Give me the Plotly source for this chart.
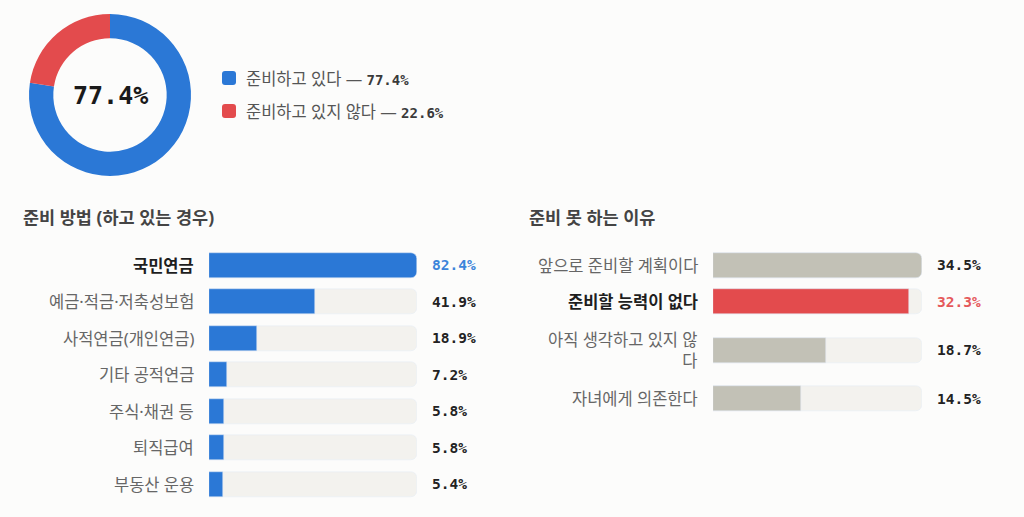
import plotly.graph_objects as go

# data
status_labels = ["준비하고 있다", "준비하고 있지 않다"]
status_values = [77.4, 22.6]

method_title = "준비 방법 (하고 있는 경우)"
method_labels = ["국민연금", "예금·적금·저축성보험", "사적연금(개인연금)", "기타 공적연금",
                 "주식·채권 등", "퇴직급여", "부동산 운용"]
method_values = [82.4, 41.9, 18.9, 7.2, 5.8, 5.8, 5.4]
method_top = 0  # highlighted row

reason_title = "준비 못 하는 이유"
reason_labels = ["앞으로 준비할 계획이다", "준비할 능력이 없다", "아직 생각하고 있지 않<br>다", "자녀에게 의존한다"]
reason_values = [34.5, 32.3, 18.7, 14.5]
reason_top = 1

BLUE = "#2b78d6"
RED = "#e34b4d"
GREY = "#c2c1b6"
TRACK = "#f3f2ee"
BG = "#fcfcfb"
KR = "Noto Sans, Noto Sans CJK KR"
MONO = "DejaVu Sans Mono"
W, H = 1024, 517

fig = go.Figure()

# donut
fig.add_trace(go.Pie(
    labels=status_labels, values=status_values, hole=0.70, sort=False,
    direction="clockwise", rotation=0, marker=dict(colors=[BLUE, RED]),
    textinfo="none", hoverinfo="label+percent", showlegend=False,
    domain=dict(x=[29 / W, 191 / W], y=[1 - 176 / H, 1 - 14 / H]),
))

annotations = []
shapes = []

annotations.append(dict(x=110, y=95, xref="x3", yref="y", text="<b>%.1f%%</b>" % status_values[0],
                        showarrow=False, font=dict(family=MONO, size=25, color="#1a1a1a")))

# legend (custom)
for i, (lab, val, col) in enumerate(zip(status_labels, status_values, [BLUE, RED])):
    yc = 78 + 33 * i
    x0, x1, y0, y1, r = 222, 236, yc - 7, yc + 7, 3
    path = (f"M{x0+r},{y0} L{x1-r},{y0} Q{x1},{y0} {x1},{y0+r} L{x1},{y1-r} Q{x1},{y1} {x1-r},{y1} "
            f"L{x0+r},{y1} Q{x0},{y1} {x0},{y1-r} L{x0},{y0+r} Q{x0},{y0} {x0+r},{y0} Z")
    shapes.append(dict(type="path", path=path, xref="x3", yref="y", fillcolor=col, line=dict(width=0)))
    annotations.append(dict(
        x=244, y=yc, xref="x3", yref="y", xanchor="left", showarrow=False,
        text=f"{lab} — <b><span style=\"font-family:{MONO};color:#3a3a3a;font-size:14px\">{val:.1f}%</span></b>",
        font=dict(family=KR, size=16.5, color="#555555")))


def row_centers(labels, start=265, pitch=36.5, line_h=24):
    ys = []
    y = start
    prev = 1
    for lab in labels:
        n = lab.count("<br>") + 1
        if ys:
            y += pitch + line_h / 2 * (prev - 1) + line_h / 2 * (n - 1)
        ys.append(y)
        prev = n
    return ys


def bar_panel(xa, labels, values, top, colors, val_colors, title, title_x):
    ys = row_centers(labels)
    vmax = max(values)
    fig.add_trace(go.Bar(x=[vmax] * len(values), y=ys, orientation="h", width=25,
                         marker=dict(color=TRACK, cornerradius=6), hoverinfo="skip",
                         xaxis=xa, yaxis="y", showlegend=False))
    fig.add_trace(go.Bar(x=values, y=ys, orientation="h", width=25,
                         marker=dict(color=colors, cornerradius=6), text=labels,
                         hovertemplate="%{text}: %{x}%<extra></extra>", textposition="none",
                         xaxis=xa, yaxis="y", showlegend=False))
    for i, (lab, val, y) in enumerate(zip(labels, values, ys)):
        if i == top:
            txt, col = f"<b>{lab}</b>", "#1e1e1e"
        else:
            txt, col = lab, "#666666"
        annotations.append(dict(x=0, y=y, xref=xa, yref="y", xanchor="right", xshift=-13,
                                align="right", showarrow=False, text=txt,
                                font=dict(family=KR, size=16.5, color=col)))
        annotations.append(dict(x=vmax, y=y, xref=xa, yref="y", xanchor="left", xshift=13,
                                showarrow=False, text=f"<b>{val:.1f}%</b>",
                                font=dict(family=MONO, size=14.5, color=val_colors[i])))
    annotations.append(dict(x=title_x, y=217, xref="x3", yref="y", xanchor="left", showarrow=False,
                            text=f"<b>{title}</b>", font=dict(family=KR, size=17.5, color="#444444")))


m_colors = [BLUE] * len(method_values)
m_vcols = ["#3b84da" if i == method_top else "#222222" for i in range(len(method_values))]
bar_panel("x", method_labels, method_values, method_top, m_colors, m_vcols, method_title, 21)

r_colors = [RED if i == reason_top else GREY for i in range(len(reason_values))]
r_vcols = ["#e5585a" if i == reason_top else "#222222" for i in range(len(reason_values))]
bar_panel("x2", reason_labels, reason_values, reason_top, r_colors, r_vcols, reason_title, 527)

fig.update_layout(
    width=W, height=H, margin=dict(l=0, r=0, t=0, b=0),
    paper_bgcolor=BG, plot_bgcolor="rgba(0,0,0,0)",
    barmode="overlay", bargap=0,
    xaxis=dict(domain=[209 / W, 417 / W], range=[0, max(method_values)], visible=False, fixedrange=True),
    xaxis2=dict(domain=[713 / W, 922 / W], range=[0, max(reason_values)], visible=False, fixedrange=True,
                anchor="y"),
    xaxis3=dict(domain=[0, 1], range=[0, W], visible=False, anchor="y"),
    yaxis=dict(domain=[0, 1], range=[H, 0], visible=False, fixedrange=True),
    annotations=annotations, shapes=shapes,
)

fig.write_html("out.html", config={"displayModeBar": False},
               post_script="document.body.style.margin='0';document.body.style.background='%s';" % BG)
